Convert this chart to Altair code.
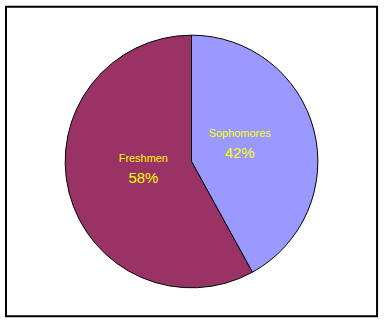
import altair as alt
import pandas as pd

categories = ["Sophomores", "Freshmen"]
values = [42, 58]
pct_labels = ["42%", "58%"]
colors = ["#9999FF", "#993366"]

df = pd.DataFrame({"cat": categories, "val": values, "pct": pct_labels,
                   "order": [0, 1]})

W, H = 373, 311

frame = alt.Chart(pd.DataFrame({"a": [0]})).mark_rect(
    fill=None, stroke="black", strokeWidth=2
).encode(x=alt.value(0), x2=alt.value(W), y=alt.value(0), y2=alt.value(H))

base = alt.Chart(df).encode(
    theta=alt.Theta("val:Q", stack=True),
    order=alt.Order("order:Q"),
)

pie = base.mark_arc(outerRadius=127, stroke="black", strokeWidth=1).encode(
    color=alt.Color("cat:N", scale=alt.Scale(domain=categories, range=colors), legend=None)
)

name_txt = base.mark_text(radius=50, dy=-15, fontSize=11, font="Liberation Sans",
                          color="#FFFF00").encode(text="cat:N")
pct_txt = base.mark_text(radius=50, dy=4, fontSize=15, font="Liberation Sans",
                         color="#FFFF00").encode(text="pct:N")

chart = alt.layer(frame, pie, name_txt, pct_txt).properties(
    width=W, height=H,
    padding={"left": 5, "top": 5, "right": 8, "bottom": 6},
    background="white",
).configure_view(stroke=None)

chart.save("out.html", embed_options={"renderer": "svg", "actions": False})
